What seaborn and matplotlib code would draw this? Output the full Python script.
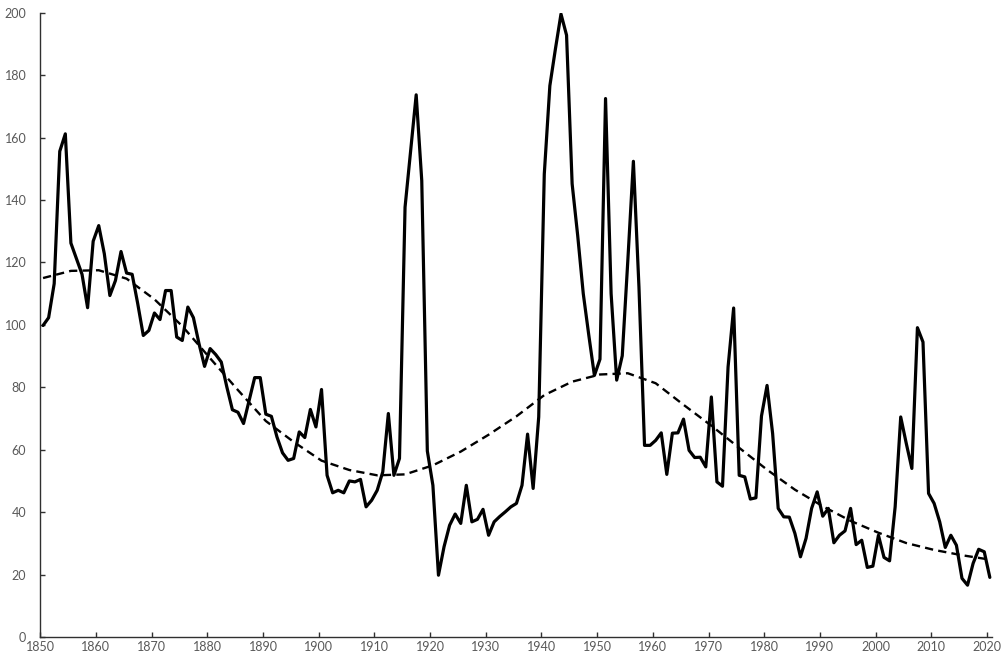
import numpy as np
import pandas as pd
import matplotlib
matplotlib.use("Agg")
import matplotlib.pyplot as plt
import seaborn as sns

# annual values 1850-2020
years = list(range(1850, 2021))
values = [
    99.8, 102.3, 113.2, 155.6, 161.2, 126.2, 121.2, 116.2, 105.5, 126.8,   # 1850s
    131.8, 122.8, 109.4, 114.2, 123.5, 116.6, 116.2, 106.8, 96.6, 98.2,    # 1860s
    103.8, 101.7, 111.0, 111.0, 96.1, 95.0, 105.7, 102.3, 94.0, 86.7,      # 1870s
    92.4, 90.5, 88.1, 80.1, 72.8, 72.0, 68.4, 75.8, 83.1, 83.1,            # 1880s
    71.4, 70.7, 64.1, 59.0, 56.6, 57.2, 65.7, 63.9, 72.9, 67.3,            # 1890s
    79.3, 51.8, 46.2, 47.0, 46.2, 50.0, 49.7, 50.5, 41.7, 43.8,            # 1900s
    47.0, 52.9, 71.6, 51.8, 57.2, 137.7, 155.8, 173.7, 146.2, 59.6,        # 1910s
    48.6, 19.8, 28.9, 35.8, 39.4, 36.4, 48.6, 36.9, 37.7, 40.9,            # 1920s
    32.6, 36.9, 38.6, 40.1, 41.7, 42.8, 48.6, 65.0, 47.6, 70.5,            # 1930s
    148.3, 176.6, 188.4, 199.6, 192.8, 145.2, 128.6, 110.0, 96.6, 83.8,    # 1940s
    89.0, 172.5, 110.0, 82.3, 90.1, 120.6, 152.4, 112.1, 61.4, 61.4,       # 1950s
    63.0, 65.4, 52.1, 65.3, 65.4, 69.8, 59.8, 57.5, 57.6, 54.5,            # 1960s
    76.9, 49.7, 48.3, 86.5, 105.4, 51.8, 51.3, 44.2, 44.6, 70.8,           # 1970s
    80.6, 65.2, 41.2, 38.5, 38.4, 33.2, 25.7, 31.6, 41.2, 46.5,            # 1980s
    38.7, 41.2, 30.2, 32.6, 34.0, 41.2, 29.6, 31.0, 22.3, 22.7,            # 1990s
    32.6, 25.5, 24.4, 41.7, 70.5, 62.0, 54.0, 99.1, 94.5, 46.0,            # 2000s
    42.8, 36.9, 28.7, 32.6, 29.4, 18.8, 16.6, 23.6, 28.1, 27.3,            # 2010s
    19.1,                                                                  # 2020
]

# dashed trend line, read every 5 years
trend_years = list(range(1850, 2021, 5))
trend_values = [
    115.0, 117.3, 117.5, 114.8, 108.2, 99.6, 89.3, 79.1, 69.2, 62.5,
    56.5, 53.5, 51.8, 52.1, 55.0, 59.4, 64.8, 70.7, 77.5, 81.8,
    84.1, 84.5, 81.3, 74.4, 67.7, 60.6, 53.6, 47.2, 41.9, 37.2,
    33.4, 30.1, 27.9, 26.2, 24.8,
]

tick_years = list(range(1850, 2021, 10))
y_ticks = list(range(0, 201, 20))

df = pd.DataFrame({"year": years, "value": values})
df_trend = pd.DataFrame({"year": trend_years, "value": trend_values})
# annual points sit at mid-year, half a step right of the tick
df["x"] = df["year"] + 0.5
df_trend["x"] = df_trend["year"] + 0.5

sns.set_theme(style="ticks")
plt.rcParams["font.family"] = ["Lato", "DejaVu Sans"]

fig = plt.figure(figsize=(10.04, 6.63), dpi=100)
ax = fig.add_axes([0.0401, 0.0392, 0.948, 0.9416])

sns.lineplot(data=df, x="x", y="value", ax=ax, color="black",
             linewidth=2.3, estimator=None, sort=False)
sns.lineplot(data=df_trend, x="x", y="value", ax=ax, color="black",
             linewidth=1.7, estimator=None, sort=False, dashes=False)
ax.lines[-1].set_dashes((3.5, 2.2))

ax.set_xlim(1850, 2020.9)
ax.set_ylim(0, 200)
ax.set_xticks(tick_years)
ax.set_yticks(y_ticks)
ax.set_xlabel("")
ax.set_ylabel("")

for s in ["top", "right"]:
    ax.spines[s].set_visible(False)
for s in ["left", "bottom"]:
    ax.spines[s].set_color("#303030")
    ax.spines[s].set_linewidth(1.0)

ax.tick_params(axis="x", direction="in", length=3.5, width=1, color="#303030",
               pad=3, labelsize=9, labelcolor="#595959")
ax.tick_params(axis="y", direction="in", length=3.5, width=1, color="#303030",
               pad=10, labelsize=9, labelcolor="#595959")

fig.savefig("out.png", dpi=100)
